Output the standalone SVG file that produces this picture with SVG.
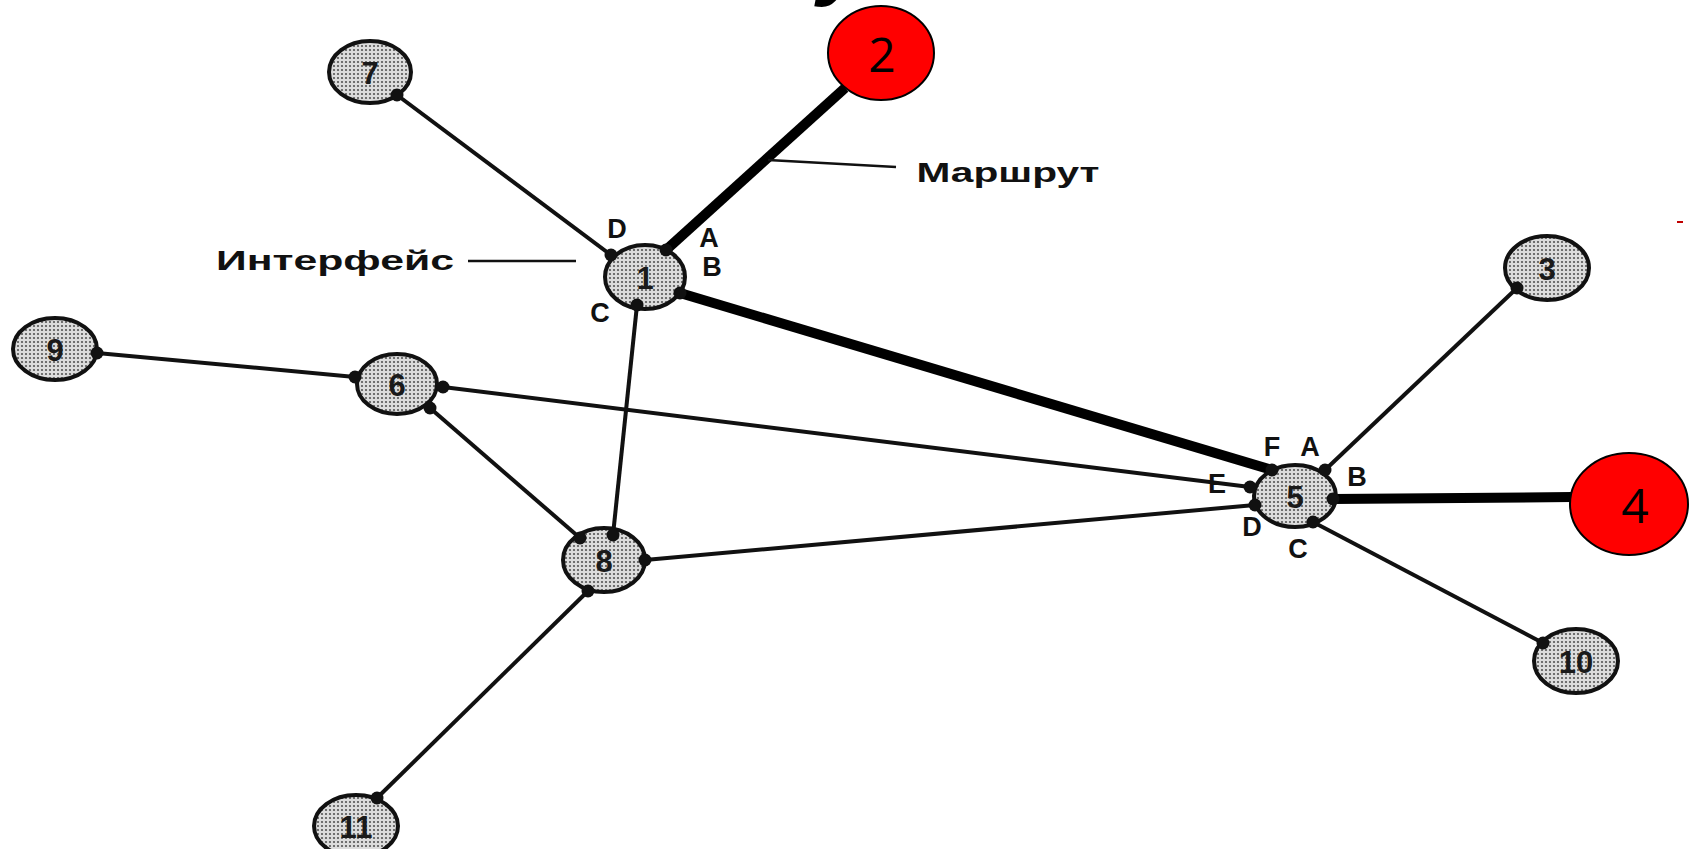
<svg xmlns="http://www.w3.org/2000/svg" width="1692" height="849" viewBox="0 0 1692 849">
<defs>
<pattern id="stip" width="4" height="4" patternUnits="userSpaceOnUse">
<rect width="4" height="4" fill="#dcdcdc"/>
<circle cx="2" cy="2" r="1.1" fill="#555"/>
</pattern>
</defs>
<style>
.n ellipse{fill:url(#stip);stroke:#111;stroke-width:4}
.n text{font-family:"Liberation Sans",Arial,sans-serif;font-weight:bold;font-size:31px;text-anchor:middle;dominant-baseline:central;fill:#1a1a1a}
.r ellipse{fill:#ff0000;stroke:#000;stroke-width:2}
.r text{font-family:"Open Sans","Liberation Sans",sans-serif;font-size:48px;text-anchor:middle;dominant-baseline:central;fill:#000}
.thin{stroke:#111;stroke-width:4;fill:none}
.thick{stroke:#000;stroke-width:10;fill:none}
.lead{stroke:#111;stroke-width:2.5;fill:none}
.dot{fill:#111}
.lbl{font-family:"Liberation Sans",Arial,sans-serif;font-weight:bold;font-size:27px;text-anchor:middle;dominant-baseline:central;fill:#111}
.frag{font-family:"Liberation Sans",Arial,sans-serif;font-weight:bold;font-style:italic;font-size:90px;fill:#000}
</style>
<rect width="1692" height="849" fill="#fff"/>
<text class="frag" x="818" y="-12">у</text>
<g id="connectors">
<line class="thin" x1="397" y1="95" x2="611" y2="255"/>
<line class="thin" x1="97" y1="353" x2="355" y2="377"/>
<line class="thin" x1="430" y1="408" x2="580" y2="538"/>
<line class="thin" x1="637" y1="305" x2="613" y2="535"/>
<line class="thin" x1="443" y1="387" x2="1250" y2="487"/>
<line class="thin" x1="645" y1="560" x2="1255" y2="505"/>
<line class="thin" x1="588" y1="591" x2="377" y2="798"/>
<line class="thin" x1="1325" y1="470" x2="1517" y2="288"/>
<line class="thin" x1="1313" y1="522" x2="1543" y2="643"/>
<line class="thick" x1="666" y1="250" x2="845" y2="88"/>
<line class="thick" x1="680" y1="293" x2="1272" y2="470"/>
<line class="thick" x1="1333" y1="499" x2="1572" y2="497"/>
<line class="lead" x1="768" y1="160" x2="896" y2="167"/>
<line class="lead" x1="468" y1="261" x2="576" y2="261"/>
</g>
<g id="node7" class="n"><ellipse cx="370" cy="72" rx="41" ry="31"/><text x="370" y="73">7</text></g>
<g id="node1" class="n"><ellipse cx="645" cy="277" rx="40" ry="32"/><text x="645" y="278">1</text></g>
<g id="node9" class="n"><ellipse cx="55" cy="349" rx="42" ry="31"/><text x="55" y="350">9</text></g>
<g id="node6" class="n"><ellipse cx="397" cy="384" rx="40" ry="30"/><text x="397" y="385">6</text></g>
<g id="node8" class="n"><ellipse cx="604" cy="560" rx="41" ry="32"/><text x="604" y="561">8</text></g>
<g id="node11" class="n"><ellipse cx="356" cy="826" rx="42" ry="31"/><text x="356" y="827">11</text></g>
<g id="node5" class="n"><ellipse cx="1295" cy="496" rx="41" ry="31"/><text x="1295" y="497">5</text></g>
<g id="node3" class="n"><ellipse cx="1547" cy="268" rx="42" ry="32"/><text x="1547" y="269">3</text></g>
<g id="node10" class="n"><ellipse cx="1576" cy="661" rx="42" ry="32"/><text x="1576" y="662">10</text></g>
<g id="node2" class="r"><ellipse cx="881" cy="53" rx="53" ry="47"/><text x="882" y="53">2</text></g>
<g id="node4" class="r"><ellipse cx="1629" cy="504" rx="59" ry="51"/><text x="1635" y="504">4</text></g>
<g id="dots">
<circle class="dot" cx="397" cy="95" r="6.5"/>
<circle class="dot" cx="611" cy="255" r="6.5"/>
<circle class="dot" cx="666" cy="250" r="6.5"/>
<circle class="dot" cx="680" cy="293" r="6.5"/>
<circle class="dot" cx="637" cy="305" r="6.5"/>
<circle class="dot" cx="97" cy="353" r="6.5"/>
<circle class="dot" cx="355" cy="377" r="6.5"/>
<circle class="dot" cx="443" cy="387" r="6.5"/>
<circle class="dot" cx="430" cy="408" r="6.5"/>
<circle class="dot" cx="580" cy="538" r="6.5"/>
<circle class="dot" cx="613" cy="535" r="6.5"/>
<circle class="dot" cx="645" cy="560" r="6.5"/>
<circle class="dot" cx="588" cy="591" r="6.5"/>
<circle class="dot" cx="377" cy="798" r="6.5"/>
<circle class="dot" cx="1272" cy="470" r="6.5"/>
<circle class="dot" cx="1325" cy="470" r="6.5"/>
<circle class="dot" cx="1250" cy="487" r="6.5"/>
<circle class="dot" cx="1255" cy="505" r="6.5"/>
<circle class="dot" cx="1313" cy="522" r="6.5"/>
<circle class="dot" cx="1333" cy="499" r="6.5"/>
<circle class="dot" cx="1517" cy="288" r="6.5"/>
<circle class="dot" cx="1543" cy="643" r="6.5"/>
</g>
<g id="labels">
<text class="lbl" x="335" y="261" textLength="238" lengthAdjust="spacingAndGlyphs">Интерфейс</text>
<text class="lbl" x="1008" y="173" textLength="183" lengthAdjust="spacingAndGlyphs">Маршрут</text>
<text class="lbl" x="617" y="229">D</text>
<text class="lbl" x="709" y="238">A</text>
<text class="lbl" x="712" y="267">B</text>
<text class="lbl" x="600" y="313">C</text>
<text class="lbl" x="1272" y="447">F</text>
<text class="lbl" x="1310" y="447">A</text>
<text class="lbl" x="1357" y="477">B</text>
<text class="lbl" x="1217" y="484">E</text>
<text class="lbl" x="1252" y="527">D</text>
<text class="lbl" x="1298" y="549">C</text>
</g>
<line x1="1677" y1="222" x2="1683" y2="222" stroke="#c00000" stroke-width="2"/>
</svg>
